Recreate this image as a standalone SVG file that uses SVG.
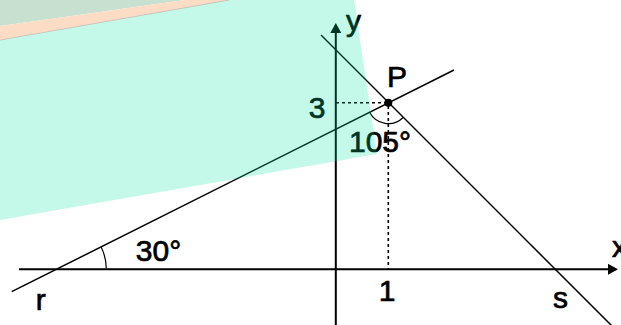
<svg xmlns="http://www.w3.org/2000/svg" width="621" height="325" viewBox="0 0 621 325">
  <style>
    .ax { stroke: #000; stroke-width: 2; fill: none; }
    .ln { stroke: #000; stroke-width: 1.5; fill: none; }
    .dash { stroke: #000; stroke-width: 1.6; stroke-dasharray: 3 3; fill: none; }
    .arc { stroke: #000; stroke-width: 1.2; fill: none; }
    .t { font-family: "Liberation Sans", Arial, sans-serif; font-size: 30px; fill: #000; stroke: #000; stroke-width: 0.7; }
  </style>
  <defs>
    <marker id="arrow" viewBox="0 0 10 11" refX="8" refY="5.5" markerWidth="10" markerHeight="11" markerUnits="userSpaceOnUse" orient="auto">
      <path d="M0,0 L10,5.5 L0,11 Z" fill="#000"/>
    </marker>
  </defs>
  <rect x="0" y="0" width="621" height="325" fill="#ffffff"/>
  <!-- background corner and band -->
  <g id="background">
    <polygon points="0,0 185,0 0,26" fill="#c8e0d0"/>
    <polygon points="0,26 185,0 229,0 0,40" fill="#fddcc6"/>
    <line x1="0" y1="40" x2="229" y2="0" stroke="#e9c4c0" stroke-width="1.2"/>
  </g>
  <!-- connectors: axes and lines -->
  <g id="connectors">
    <line class="ax" x1="19" y1="269.3" x2="616" y2="269.3" marker-end="url(#arrow)"/>
    <line class="ax" x1="335.8" y1="325" x2="335.8" y2="25" marker-end="url(#arrow)"/>
    <line id="line-r" class="ln" x1="11.7" y1="291.7" x2="454" y2="70"/>
    <line id="line-s" class="ln" x1="321" y1="35" x2="613" y2="327"/>
    <line class="dash" x1="336" y1="102.7" x2="388" y2="102.7"/>
    <line class="dash" x1="388.3" y1="106" x2="388.3" y2="269"/>
    <path class="arc" d="M106.3,268.8 A48,48 0 0 0 101.2,247.3"/>
    <path class="arc" d="M403.1,117.5 A21,21 0 0 1 369.5,112.1"/>
  </g>
  <g id="node-P">
    <circle cx="388.3" cy="102.7" r="4" fill="#000"/>
    <text class="t" x="397" y="87" text-anchor="middle">P</text>
  </g>
  <g id="labels">
    <text class="t" x="346" y="31">y</text>
    <text class="t" x="612" y="257">x</text>
    <text class="t" x="317" y="118" text-anchor="middle">3</text>
    <text class="t" x="380" y="152" text-anchor="middle">105°</text>
    <text class="t" x="158.5" y="261" text-anchor="middle">30°</text>
    <text class="t" x="387" y="301" text-anchor="middle">1</text>
    <text class="t" x="40.7" y="310" text-anchor="middle">r</text>
    <text class="t" x="560.5" y="308" text-anchor="middle">s</text>
  </g>
  <!-- translucent teal panel lying over the drawing -->
  <g id="panel">
    <polygon points="0,40 229,0 354,0 377,154 0,220" fill="rgb(0,226,157)" fill-opacity="0.23"/>
  </g>
</svg>
